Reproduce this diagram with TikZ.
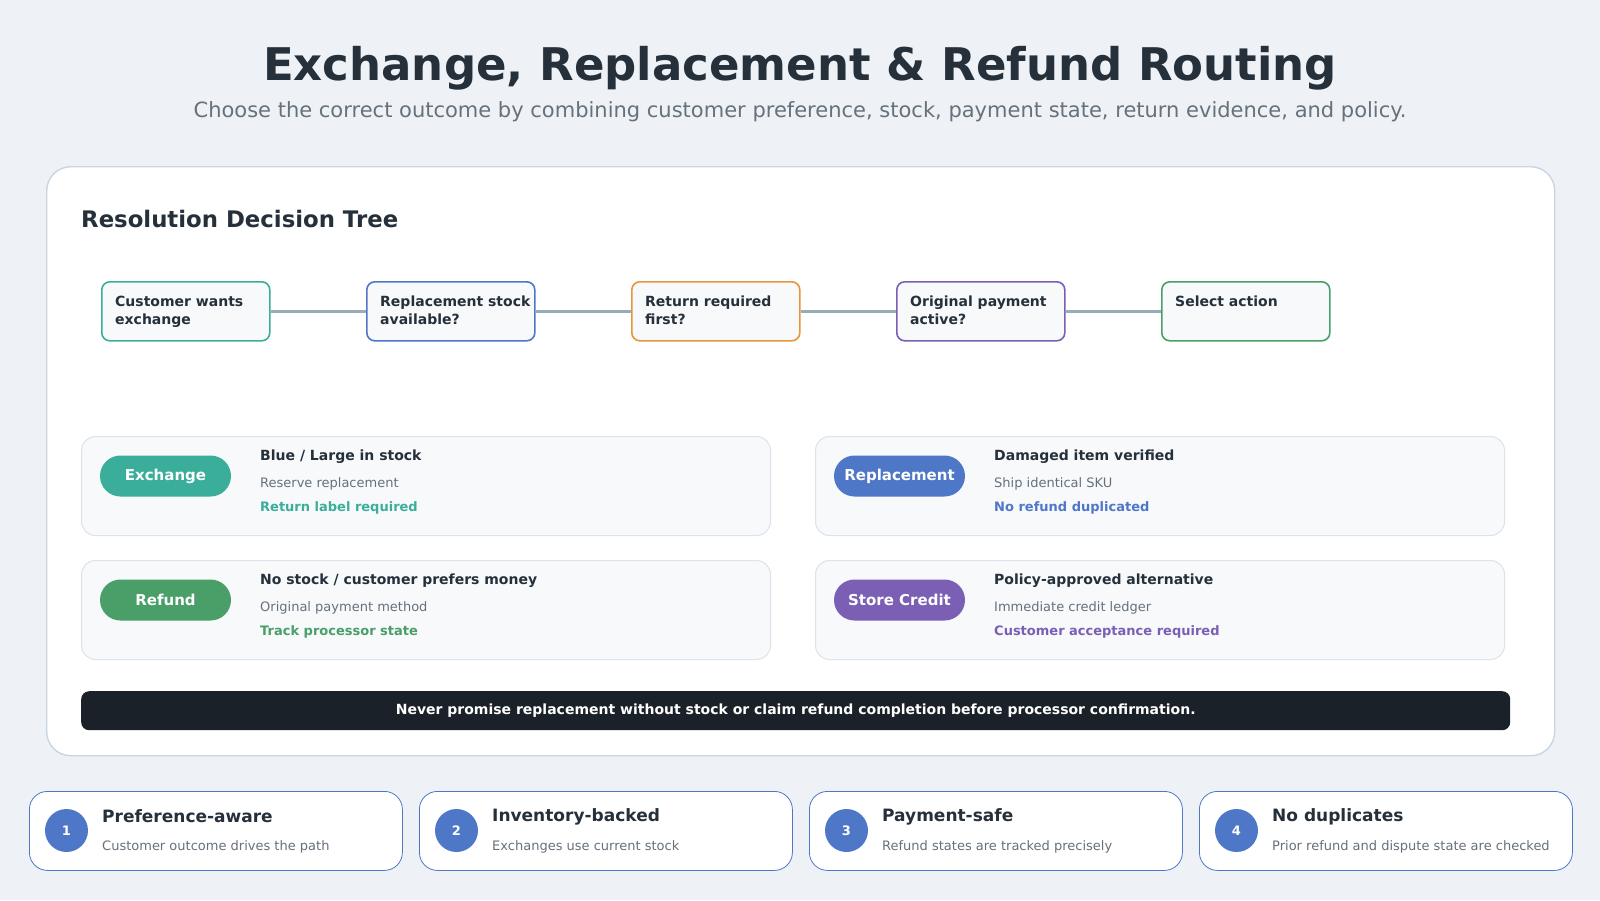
\documentclass[tikz,border=0pt]{standalone}
\usepackage{fontspec}
\setmainfont{DejaVu Sans}
\usetikzlibrary{positioning,calc}
\definecolor{pagebg}     {HTML}{EEF2F6}
\definecolor{inkdark}    {HTML}{25303B}
\definecolor{inkgray}    {HTML}{66717C}
\definecolor{panelline}  {HTML}{C8D6E2}
\definecolor{cardfill}   {HTML}{F7F9FB}
\definecolor{cardline}   {HTML}{DCE3EA}
\definecolor{linkgray}   {HTML}{9AABB8}
\definecolor{routeteal}  {HTML}{3AAE9A}
\definecolor{routeblue}  {HTML}{4F77C8}
\definecolor{routeorange}{HTML}{E8963A}
\definecolor{routepurple}{HTML}{7A5FB5}
\definecolor{routegreen} {HTML}{4A9E68}
\definecolor{barblack}   {HTML}{1B2128}
\newcommand{\fsz}[2]{\fontsize{#1}{#2}\selectfont}

\begin{document}
\begin{tikzpicture}[x=1pt,y=-1pt,
  qbox/.style={draw=#1,line width=1.6pt,fill=cardfill,rounded corners=8pt,
               minimum width=168pt,minimum height=59pt,inner sep=0pt,anchor=north west},
  qtext/.style={font=\fsz{14}{17.5}\bfseries,text=inkdark,align=left,
                anchor=north west,inner sep=0pt},
  link/.style={draw=linkgray,line width=2.6pt},
  card/.style={draw=cardline,line width=1pt,fill=cardfill,rounded corners=14pt,
               minimum width=689pt,minimum height=99pt,inner sep=0pt,anchor=north west},
  pill/.style={fill=#1,rounded corners=20.5pt,minimum width=131pt,minimum height=41pt,
               inner sep=0pt,font=\fsz{15}{18}\bfseries,text=white},
  chead/.style={font=\fsz{14}{17}\bfseries,text=inkdark,anchor=west,inner sep=0pt},
  csub/.style={font=\fsz{13}{16},text=inkgray,anchor=west,inner sep=0pt},
  cnote/.style={font=\fsz{13}{16}\bfseries,text=#1,anchor=west,inner sep=0pt},
  foot/.style={draw=routeblue,line width=0.8pt,fill=white,rounded corners=18pt,
               minimum width=373pt,minimum height=79pt,inner sep=0pt,anchor=north west},
  badge/.style={circle,fill=routeblue,minimum size=43pt,inner sep=0pt,
                font=\fsz{13}{16}\bfseries,text=white},
]

%% Page background and frame
\fill[pagebg] (0,0) rectangle (1600,900);
\useasboundingbox (0,0) rectangle (1600,900);

%% Heading
\node[font=\fsz{45}{54}\bfseries,text=inkdark] (title) at (800,68)
  {Exchange, Replacement \& Refund Routing};
\node[font=\fsz{21}{25},text=inkgray] (subtitle) at (800,112)
  {Choose the correct outcome by combining customer preference, stock, payment state, return evidence, and policy.};

%% Main panel
\node[draw=panelline,line width=1.4pt,fill=white,rounded corners=24pt,
      minimum width=1508pt,minimum height=589pt,anchor=north west] (panel) at (46,166) {};
\node[font=\fsz{22.8}{27}\bfseries,text=inkdark,anchor=west,inner sep=0pt] (treehdr)
  at (81,219) {Resolution Decision Tree};

%% Decision steps
\foreach \i/\col/\txt in {
  1/routeteal/{Customer wants\\exchange},
  2/routeblue/{Replacement stock\\available?},
  3/routeorange/{Return required\\first?},
  4/routepurple/{Original payment\\active?},
  5/routegreen/{Select action}
}{
  \node[qbox=\col] (q\i) at ({101+(\i-1)*265},281) {};
  \node[qtext] (qt\i) at ([xshift=14pt,yshift=-15pt]q\i.north west) {\txt};
}
\foreach \a/\b in {1/2,2/3,3/4,4/5}{
  \draw[link] (q\a.east) -- (q\b.west);
}

%% Outcome cards
\foreach \cx/\cy/\col/\nm/\pil/\hd/\sb/\nt in {
  81/436/routeteal/ex/Exchange/{Blue / Large in stock}/{Reserve replacement}/{Return label required},
  815/436/routeblue/rp/Replacement/{Damaged item verified}/{Ship identical SKU}/{No refund duplicated},
  81/560/routegreen/rf/Refund/{No stock / customer prefers money}/{Original payment method}/{Track processor state},
  815/560/routepurple/sc/Store Credit/{Policy-approved alternative}/{Immediate credit ledger}/{Customer acceptance required}
}{
  \node[card] (\nm) at (\cx,\cy) {};
  \node[pill=\col] (\nm-pill) at ([xshift=84.5pt,yshift=-40pt]\nm.north west) {\pil};
  \node[chead] (\nm-head) at ([xshift=179pt,yshift=-20.5pt]\nm.north west) {\hd};
  \node[csub] (\nm-sub) at ([xshift=179pt,yshift=-48pt]\nm.north west) {\sb};
  \node[cnote=\col] (\nm-note) at ([xshift=179pt,yshift=-71.5pt]\nm.north west) {\nt};
}

%% Guard rule
\node[fill=barblack,rounded corners=8pt,minimum width=1429pt,minimum height=39pt,
      anchor=north west,font=\fsz{14}{17}\bfseries,text=white] (guard) at (81,691)
  {Never promise replacement without stock or claim refund completion before processor confirmation.};

%% Principles
\foreach \i/\hd/\sb in {
  1/Preference-aware/{Customer outcome drives the path},
  2/Inventory-backed/{Exchanges use current stock},
  3/Payment-safe/{Refund states are tracked precisely},
  4/No duplicates/{Prior refund and dispute state are checked}
}{
  \node[foot] (p\i) at ({29+(\i-1)*390},791) {};
  \node[badge] (pb\i) at ([xshift=37.5pt,yshift=-39.5pt]p\i.north west) {\i};
  \node[font=\fsz{17}{20}\bfseries,text=inkdark,anchor=west,inner sep=0pt] (ph\i)
    at ([xshift=73pt,yshift=-25.5pt]p\i.north west) {\hd};
  \node[font=\fsz{13}{16},text=inkgray,anchor=west,inner sep=0pt] (ps\i)
    at ([xshift=73pt,yshift=-55.5pt]p\i.north west) {\sb};
}

\end{tikzpicture}
\end{document}
